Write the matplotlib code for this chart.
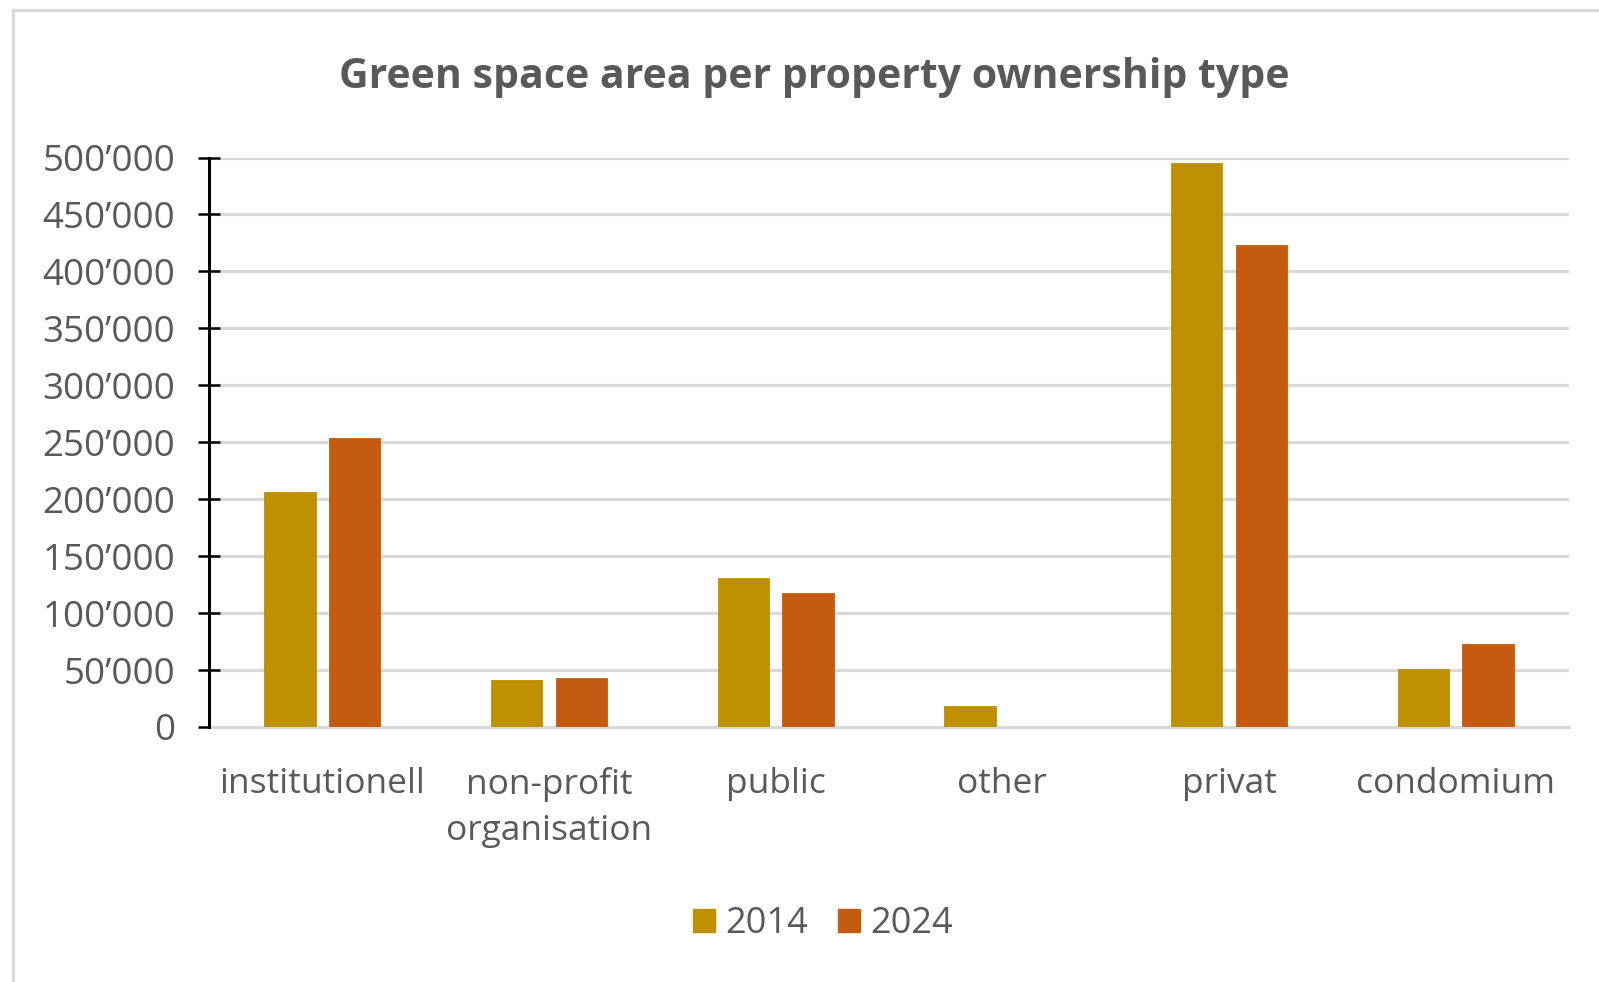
import matplotlib
matplotlib.use("Agg")
import matplotlib.pyplot as plt
import numpy as np
from matplotlib.patches import Rectangle, Patch

# Data
categories = ["institutionell", "non-profit\norganisation", "public", "other", "privat", "condomium"]
years = ["2014", "2024"]
area_2014 = [206000, 41000, 131000, 18500, 495500, 51000]
area_2024 = [254000, 43000, 118000, 0, 423000, 72500]
y_ticks = [0, 50000, 100000, 150000, 200000, 250000, 300000, 350000, 400000, 450000, 500000]

colors = ["#BF9000", "#C55A11"]
text_color = "#595959"
grid_color = "#D9D9D9"

plt.rcParams["font.family"] = ["Open Sans", "DejaVu Sans"]

W, H = 1599, 982
fig = plt.figure(figsize=(W / 100, H / 100), dpi=100)
fig.patch.set_facecolor("white")

# Chart-area frame
frame = Rectangle((13 / W, -0.1), 1.2, 1 - 9.5 / H + 0.1, transform=fig.transFigure,
                  fill=False, edgecolor="#D9D9D9", linewidth=2.2, zorder=0)
fig.add_artist(frame)

left, right = 209 / W, 1569 / W
bottom, top = 1 - 727 / H, 1 - 157.5 / H
ax = fig.add_axes([left, bottom, right - left, top - bottom])

x = np.arange(len(categories))
bw = 0.227
off = 0.1425
ax.bar(x - off, area_2014, width=bw, color=colors[0], edgecolor=colors[0], linewidth=0.6, zorder=3, label=years[0])
ax.bar(x + off, area_2024, width=bw, color=colors[1], edgecolor=colors[1], linewidth=0.6, zorder=3, label=years[1])

ax.set_xlim(-0.5, len(categories) - 0.5)
ax.set_ylim(0, 500000)
ax.set_yticks(y_ticks)
ax.set_yticklabels([f"{v:,}".replace(",", "\u2019") for v in y_ticks])
ax.set_xticks(x)
ax.set_xticklabels(categories, linespacing=1.45)

ax.yaxis.grid(True, color=grid_color, linewidth=2.2, zorder=0)
ax.set_axisbelow(True)
for s in ["top", "right", "left"]:
    ax.spines[s].set_visible(False)
ax.spines["bottom"].set_color(grid_color)
ax.spines["bottom"].set_linewidth(2.2)

# Vertical value axis with crossing ticks
ax.plot([0, 0], [0, 1], transform=ax.transAxes, color="black", linewidth=2.2, clip_on=False, zorder=5)
ax.tick_params(axis="y", direction="inout", length=16.5, width=1.8, color="black",
               labelsize=26.5, labelcolor=text_color, pad=16)
ax.tick_params(axis="x", length=0, labelsize=25.5, labelcolor=text_color, pad=29)
for t in ax.get_xticklabels():
    t.set_verticalalignment("top")

fig.text(814 / W, 1 - 77 / H, "Green space area per property ownership type",
         ha="center", va="center", fontsize=29.5, fontweight="bold", color=text_color)

handles = [Patch(facecolor=c, edgecolor=c, label=y) for c, y in zip(colors, years)]
fig.legend(handles=handles, loc="center", bbox_to_anchor=(823 / W, 1 - 924 / H), ncol=2,
           frameon=False, fontsize=26, labelcolor=text_color, handlelength=0.62,
           handleheight=0.62, handletextpad=0.3, columnspacing=0.8)

fig.savefig("out.png", dpi=100, facecolor="white")
